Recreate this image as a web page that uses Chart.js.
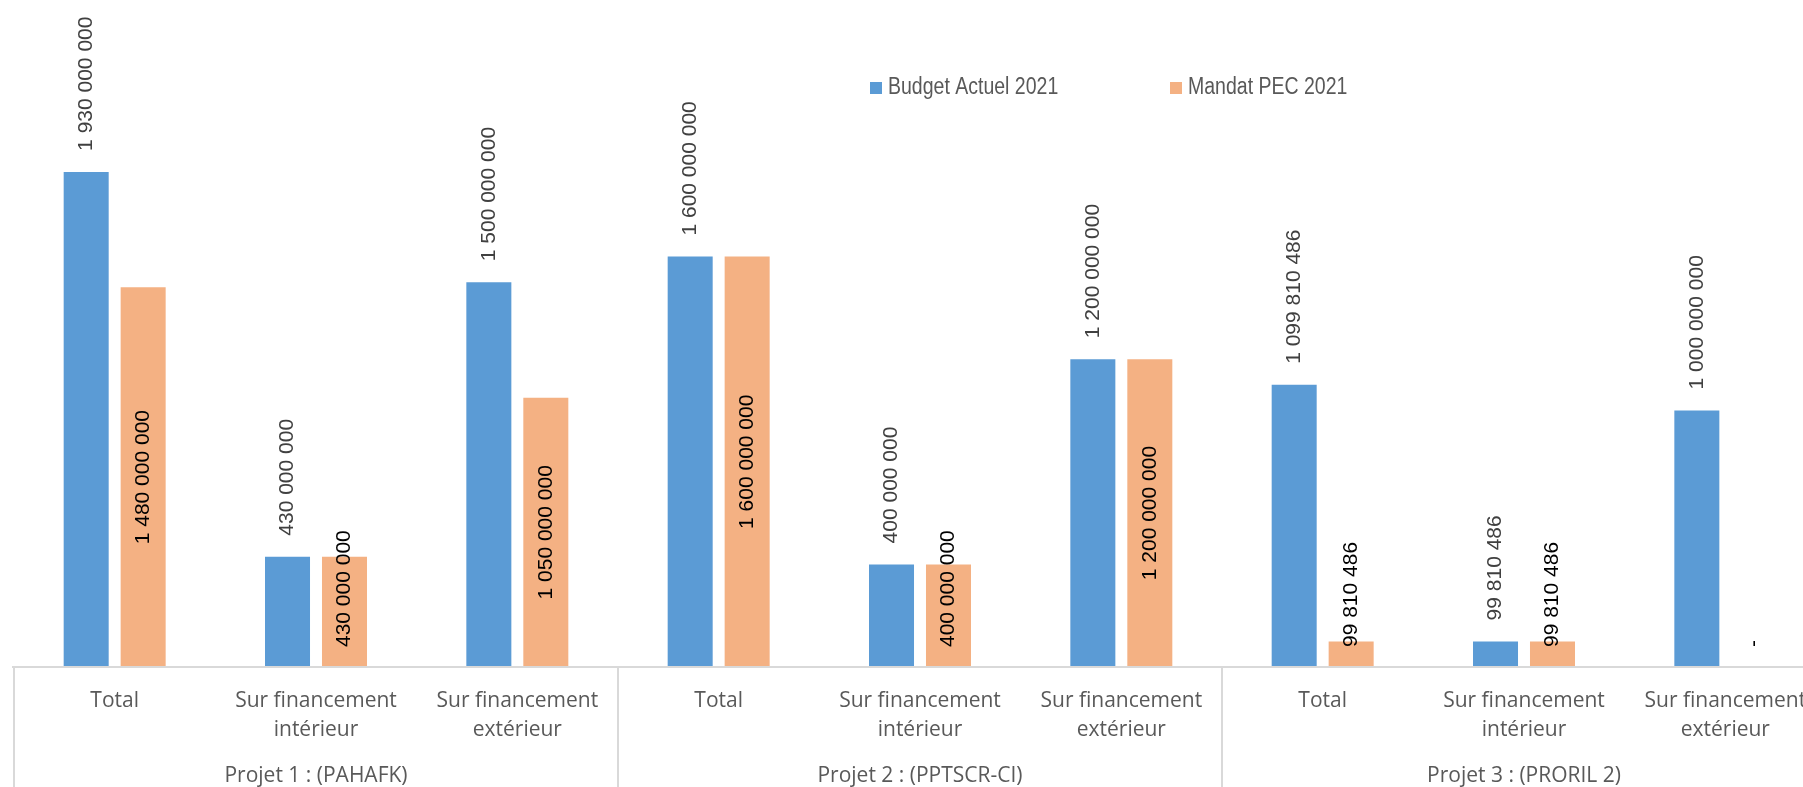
<!DOCTYPE html>
<html>
<head>
<meta charset="utf-8">
<script src="https://cdn.jsdelivr.net/npm/chart.js@4.4.1/dist/chart.umd.min.js"></script>
<style>
  html, body { margin: 0; padding: 0; background: #fff; overflow: hidden; }
  #wrap { width: 1840px; height: 787px; }
</style>
</head>
<body>
<div id="wrap"><canvas id="budgetChart" width="1840" height="787"></canvas></div>
<script>
// Categories (3 per project)
const categories = [
    ['Total'], ['Sur financement', 'intérieur'], ['Sur financement', 'extérieur'],
    ['Total'], ['Sur financement', 'intérieur'], ['Sur financement', 'extérieur'],
    ['Total'], ['Sur financement', 'intérieur'], ['Sur financement', 'extérieur']
];
const projets = ['Projet 1 : (PAHAFK)', 'Projet 2 : (PPTSCR-CI)', 'Projet 3 : (PRORIL 2)'];

// Series
const seriesNames = ['Budget Actuel 2021', 'Mandat PEC 2021'];
const budgetActuel = [1930000000, 430000000, 1500000000, 1600000000, 400000000, 1200000000, 1099810486, 99810486, 1000000000];
const mandatPec = [1480000000, 430000000, 1050000000, 1600000000, 400000000, 1200000000, 99810486, 99810486, 0];

const couleurs = ['#5b9bd5', '#f4b183'];
const labelFont = '21px "Liberation Sans", Arial, sans-serif';
const axisFont = '"Open Sans", sans-serif';

// format 1930000000 -> "1 930 000 000", 0 -> "-"
function formatNombre(v) {
    if (!v) return '-';
    return String(v).replace(/\B(?=(\d{3})+(?!\d))/g, ' ');
}

// Waarden-labels boven / in de staven
const dataLabels = {
    id: 'dataLabels',
    afterDatasetsDraw(chart) {
        const ctx = chart.ctx;
        ctx.save();
        ctx.font = labelFont;
        ctx.textBaseline = 'middle';
        ctx.textAlign = 'left';
        chart.data.datasets.forEach((ds, di) => {
            const meta = chart.getDatasetMeta(di);
            meta.data.forEach((bar, i) => {
                const txt = formatNombre(ds.data[i]);
                const len = ctx.measureText(txt).width;
                let bottom;
                if (di === 0) {
                    ctx.fillStyle = '#404040';
                    bottom = bar.y - 21;
                } else {
                    ctx.fillStyle = '#000000';
                    bottom = (bar.y + bar.base) / 2 + len / 2;
                    if (bottom > bar.base - 20) bottom = bar.base - 20;
                }
                ctx.save();
                ctx.translate(bar.x, bottom);
                ctx.rotate(-Math.PI / 2);
                ctx.fillText(txt, 0, 0);
                ctx.restore();
            });
        });
        ctx.restore();
    }
};

// Projet-groepen, scheidingslijnen en legende
const groupAxis = {
    id: 'groupAxis',
    afterDraw(chart) {
        const ctx = chart.ctx;
        const x = chart.scales.x;
        const area = chart.chartArea;
        const catW = (area.right - area.left) / categories.length;
        ctx.save();
        ctx.strokeStyle = '#d9d9d9';
        ctx.lineWidth = 2;
        ctx.beginPath();
        ctx.moveTo(area.left - 2, area.bottom);
        ctx.lineTo(area.right, area.bottom);
        for (let g = 0; g <= projets.length; g++) {
            const px = Math.round(x.getPixelForValue(g * 3) - catW / 2);
            ctx.moveTo(px, area.bottom);
            ctx.lineTo(px, chart.height);
        }
        ctx.stroke();

        ctx.fillStyle = '#595959';
        ctx.font = '21px ' + axisFont;
        ctx.textAlign = 'center';
        ctx.textBaseline = 'alphabetic';
        projets.forEach((p, g) => {
            ctx.fillText(p, x.getPixelForValue(g * 3 + 1), 782);
        });

        // legende (smal lettertype nagebootst met horizontale schaal)
        ctx.font = '23.5px "Liberation Sans", Arial, sans-serif';
        ctx.textAlign = 'left';
        ctx.textBaseline = 'middle';
        const legendX = [870, 1170];
        seriesNames.forEach((n, i) => {
            ctx.fillStyle = couleurs[i];
            ctx.fillRect(legendX[i], 82, 12, 12);
            ctx.fillStyle = '#595959';
            ctx.save();
            ctx.translate(legendX[i] + 18, 88);
            ctx.scale(0.83, 1);
            ctx.fillText(n, 0, 0);
            ctx.restore();
        });
        ctx.restore();
    }
};

const ctx = document.getElementById('budgetChart').getContext('2d');
new Chart(ctx, {
    type: 'bar',
    data: {
        labels: categories,
        datasets: [
            {
                label: seriesNames[0],
                data: budgetActuel,
                backgroundColor: couleurs[0],
                categoryPercentage: 0.566,
                barPercentage: 0.79
            },
            {
                label: seriesNames[1],
                data: mandatPec,
                backgroundColor: couleurs[1],
                categoryPercentage: 0.566,
                barPercentage: 0.79
            }
        ]
    },
    options: {
        responsive: false,
        animation: false,
        layout: { padding: { left: 14, right: 14, top: 0, bottom: 0 } },
        plugins: {
            legend: { display: false },
            tooltip: { enabled: false }
        },
        scales: {
            x: {
                grid: { display: false, drawTicks: false },
                border: { display: false },
                ticks: {
                    color: '#595959',
                    font: { family: axisFont, size: 21, lineHeight: 1.36 },
                    padding: 20,
                    maxRotation: 0,
                    autoSkip: false
                },
                afterFit(scale) { scale.height = 120; }
            },
            y: {
                display: false,
                min: 0,
                max: 2600000000
            }
        }
    },
    plugins: [dataLabels, groupAxis]
});
</script>
</body>
</html>
